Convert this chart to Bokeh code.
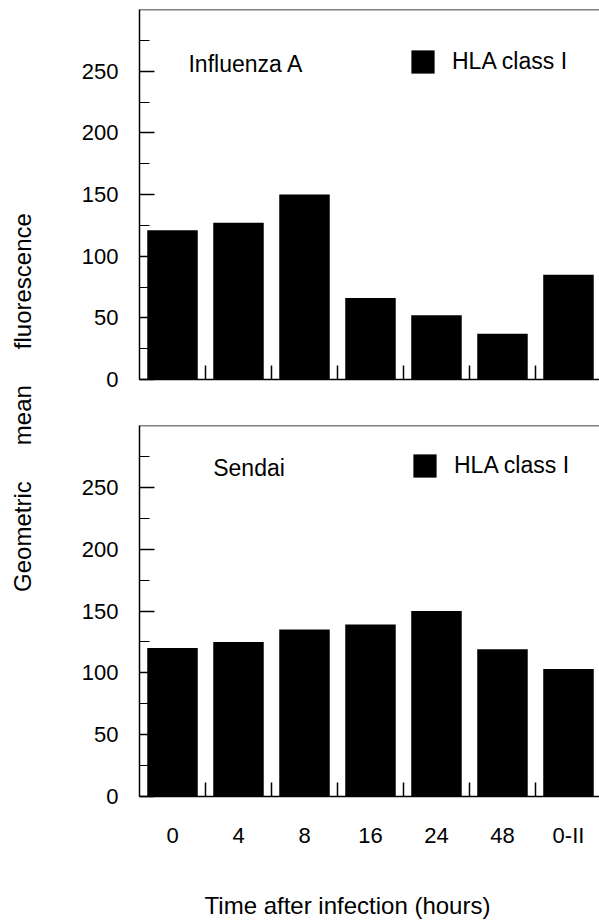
import math
from bokeh.plotting import figure
from bokeh.models import (Range1d, FixedTicker, Span, Legend, LegendItem, Label,
                          ColumnDataSource)
from bokeh.layouts import row, column
from bokeh.core.properties import value
from bokeh.embed import file_html
from bokeh.resources import INLINE

# ---- data ----
hours = ["0", "4", "8", "16", "24", "48", "0-II"]
influenza = [121, 127, 150, 66, 52, 37, 85]
sendai = [120, 125, 135, 139, 150, 119, 103]
y_ticks = [0, 50, 100, 150, 200, 250]
y_minor = [25, 75, 125, 175, 225, 275]
panel_titles = ["Influenza A", "Sendai"]
legend_label = "HLA class I"
x_title = "Time after infection (hours)"
y_title = "Geometric\u2003\u2002mean\u2003\u2002fluorescence"

FONT = "Liberation Sans"
centers = [i + 0.5 for i in range(len(hours))]
bounds = [i for i in range(1, len(hours))]


def panel(values, title, title_pos, legend_pos, height, mbt, mbb, show_labels):
    p = figure(width=551, height=height, x_range=Range1d(0, 6.97),
               y_range=Range1d(0, 300), output_backend="svg",
               toolbar_location=None, min_border_left=91, min_border_right=0,
               min_border_top=mbt, min_border_bottom=mbb)
    p.outline_line_color = None
    p.xgrid.visible = False
    p.ygrid.visible = False

    src = ColumnDataSource(dict(x=centers, top=values, hours=hours))
    r = p.vbar(x="x", top="top", width=0.765, bottom=0, source=src,
               fill_color="black", line_color=None)

    p.add_layout(Span(location=300, dimension="width", line_color="black",
                      line_width=1.5))

    ya = p.yaxis[0]
    ya.ticker = FixedTicker(ticks=y_ticks, minor_ticks=y_minor)
    ya.major_tick_in = 15
    ya.major_tick_out = 0
    ya.minor_tick_in = 10
    ya.minor_tick_out = 0
    ya.axis_line_width = 1.5
    ya.major_tick_line_width = 1.5
    ya.minor_tick_line_width = 1.2
    ya.major_label_standoff = 21
    ya.major_label_text_font = FONT
    ya.major_label_text_font_size = "22px"
    ya.major_label_text_color = "black"

    xa = p.xaxis[0]
    xa.major_tick_line_color = None
    xa.minor_tick_in = 14
    xa.minor_tick_out = 0
    xa.minor_tick_line_width = 1.5
    xa.axis_line_width = 1.5
    if show_labels:
        xa.ticker = FixedTicker(ticks=centers, minor_ticks=bounds)
        xa.major_label_overrides = {c: h for c, h in zip(centers, hours)}
        xa.major_label_standoff = 20
        xa.major_label_text_font = FONT
        xa.major_label_text_font_size = "22px"
        xa.major_label_text_color = "black"
    else:
        xa.ticker = FixedTicker(ticks=[], minor_ticks=bounds)
        xa.major_label_standoff = 0

    p.add_layout(Label(x=title_pos[0], y=title_pos[1], text=title,
                       text_align="left", text_baseline="middle",
                       text_font=FONT, text_font_size="23px",
                       text_color="black"))

    leg = Legend(items=[LegendItem(label=legend_label, renderers=[r])],
                 location=legend_pos, padding=0, margin=0,
                 border_line_color=None, background_fill_alpha=0,
                 glyph_width=29, glyph_height=29, label_standoff=15,
                 label_height=29, label_text_font=FONT,
                 label_text_font_size="23px", label_text_color="black",
                 label_text_baseline="middle")
    p.add_layout(leg)
    return p


p1 = panel(influenza, panel_titles[0], (0.742, 256), (269, 303), 401, 9, 22, False)
p2 = panel(sendai, panel_titles[1], (1.117, 266), (271, 316), 455, 24, 60, True)

lab = figure(width=48, height=856, x_range=Range1d(0, 48), y_range=Range1d(0, 856),
             output_backend="svg", toolbar_location=None, min_border=0)
lab.axis.visible = False
lab.grid.visible = False
lab.outline_line_color = None
lab.text(x=[22], y=[454], text=[y_title], angle=math.pi / 2,
         text_align="center", text_baseline="middle",
         text_font=value(FONT), text_font_size="24px", text_color="black")

strip = figure(width=599, height=68, x_range=Range1d(0, 599), y_range=Range1d(0, 68),
               output_backend="svg", toolbar_location=None, min_border=0)
strip.axis.visible = False
strip.grid.visible = False
strip.outline_line_color = None
strip.text(x=[347], y=[19], text=[x_title], text_align="center",
           text_baseline="middle", text_font=value(FONT),
           text_font_size="24px", text_color="black")

layout = column(row(lab, column(p1, p2)), strip)
open("out.html", "w").write(file_html(layout, INLINE))
